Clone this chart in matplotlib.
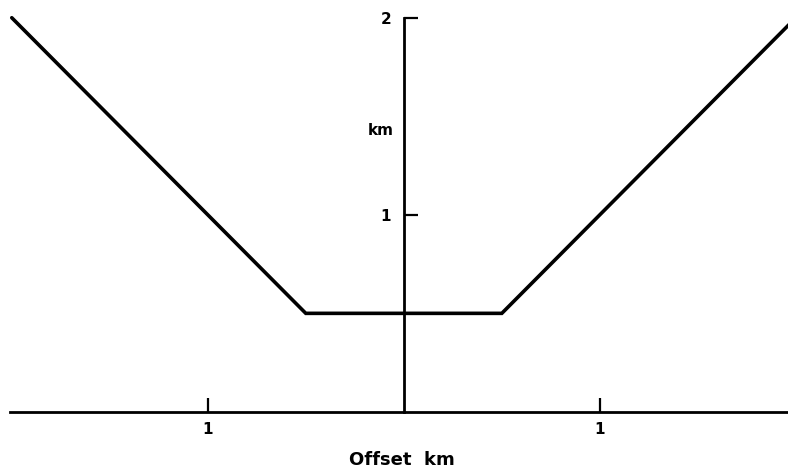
import matplotlib
import matplotlib.pyplot as plt

matplotlib.use("Agg")

# travel path: offset (km) vs depth (km)
offset = [-2.0, -0.5, 0.5, 2.0]
depth = [2.0, 0.5, 0.5, 2.0]

x_ticks = [-1, 1]
x_tick_labels = ["1", "1"]
y_ticks = [1, 2]
y_tick_labels = ["1", "2"]

plt.rcParams["font.family"] = "DejaVu Sans"

fig = plt.figure(figsize=(7.88, 4.71), dpi=100)
ax = fig.add_axes([0, 0, 1, 1])
ax.set_xlim(-2.06, 1.96)
ax.set_ylim(-0.30, 2.09)

ax.plot(offset, depth, color="black", linewidth=2.6, solid_capstyle="round", solid_joinstyle="miter")

for side in ["top", "right"]:
    ax.spines[side].set_visible(False)
ax.spines["left"].set_position(("data", 0))
ax.spines["bottom"].set_position(("data", 0))
ax.spines["left"].set_bounds(0, 2.0)
ax.spines["bottom"].set_bounds(-2.01, 1.96)
ax.spines["left"].set_linewidth(2.0)
ax.spines["bottom"].set_linewidth(2.0)

ax.set_xticks(x_ticks, x_tick_labels)
ax.set_yticks(y_ticks, y_tick_labels)
ax.tick_params(axis="x", direction="in", length=10, width=1.6, pad=7, labelsize=11)
ax.tick_params(axis="y", direction="in", length=10, width=1.6, pad=9, labelsize=11)
for lbl in ax.get_xticklabels() + ax.get_yticklabels():
    lbl.set_fontweight("bold")

ax.text(-0.12, 1.43, "km", ha="center", va="center", fontsize=11, fontweight="bold")
fig.text(0.51, 1 - 460 / 471, "Offset  km", ha="center", va="center", fontsize=13,
         fontweight="bold")

fig.savefig("out.png", dpi=100)
